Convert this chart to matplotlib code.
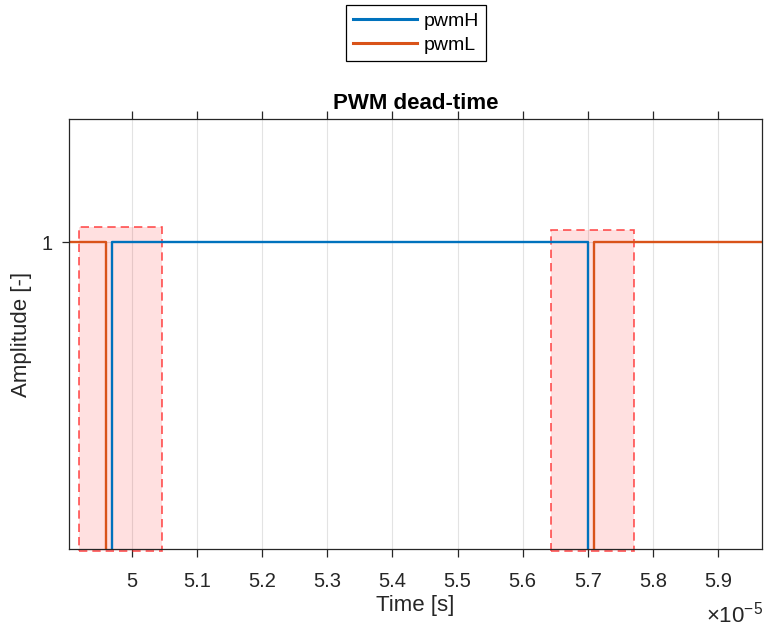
import matplotlib
matplotlib.use("Agg")
import matplotlib.pyplot as plt
from matplotlib.patches import Rectangle
from matplotlib.ticker import FuncFormatter

# step signals (time in seconds)
t_h = [4.90e-5, 4.97e-5, 5.70e-5, 5.97e-5]
pwm_h = [0, 1, 0, 0]
t_l = [4.90e-5, 4.96e-5, 5.71e-5, 5.97e-5]
pwm_l = [1, 0, 1, 1]

# dead-time highlight boxes
box_start = [4.919e-5, 5.644e-5]
box_end = [5.046e-5, 5.771e-5]
box_top = [1.05, 1.04]

x_ticks = [5.0e-5, 5.1e-5, 5.2e-5, 5.3e-5, 5.4e-5, 5.5e-5, 5.6e-5, 5.7e-5, 5.8e-5, 5.9e-5]

BLUE = (0, 0.447, 0.741)
ORANGE = (0.85, 0.325, 0.098)
DARK = "#262626"

plt.rcParams["font.family"] = ["Liberation Sans", "DejaVu Sans"]
plt.rcParams["mathtext.fontset"] = "custom"
plt.rcParams["mathtext.rm"] = "Liberation Sans"

fig = plt.figure(figsize=(7.65, 6.28), dpi=100)
ax = fig.add_axes([0.0908, 0.1258, 0.9049, 0.6847])

for x0, x1, top in zip(box_start, box_end, box_top):
    ax.add_patch(Rectangle((x0, 0), x1 - x0, top, facecolor=(1, 0, 0, 0.12),
                           edgecolor=(1, 0.1, 0.1, 0.75), linestyle=(0, (5, 3)),
                           linewidth=1.2, zorder=1, clip_on=False))

ax.plot(t_h, pwm_h, drawstyle="steps-post", color=BLUE, linewidth=1.7, label="pwmH", zorder=3)
ax.plot(t_l, pwm_l, drawstyle="steps-post", color=ORANGE, linewidth=1.7, label="pwmL", zorder=3)

ax.set_xlim(4.904e-5, 5.967e-5)
# bottom a hair above 0 so the low level hides behind the axis line, as in the original
ax.set_ylim(0.005, 1.4)
ax.set_xticks(x_ticks)
ax.xaxis.set_major_formatter(FuncFormatter(lambda v, p: f"{v * 1e5:g}"))
ax.set_yticks([1])
ax.set_yticklabels(["1"])

ax.grid(True, color="#e3e3e3", linewidth=0.8, zorder=0)
ax.set_axisbelow(True)
for side in ["left", "bottom", "top", "right"]:
    ax.spines[side].set_color(DARK)
    ax.spines[side].set_linewidth(0.9)
    ax.spines[side].set_zorder(4)

ax.tick_params(axis="x", direction="out", length=5.5, width=0.9, pad=11,
               labelsize=14.5, colors=DARK, top=True)
ax.tick_params(axis="y", direction="out", length=5, width=0.9, pad=7,
               labelsize=14.5, colors=DARK)

ax.set_title("PWM dead-time", fontsize=16, fontweight="bold", color="black", pad=7.5)
ax.set_xlabel("Time [s]", fontsize=16, color=DARK, va="top")
ax.xaxis.set_label_coords(0.5, -0.106)
ax.set_ylabel("Amplitude [-]", fontsize=16, color=DARK)
ax.yaxis.set_label_coords(-0.054, 0.5)

fig.text(0.997, 0.009, r"$\times 10^{-5}$", ha="right", va="baseline", fontsize=16, color=DARK)

leg = fig.legend(loc="upper center", bbox_to_anchor=(0.544, 0.992), borderaxespad=0,
                 fontsize=14, handlelength=3.25, fancybox=False, framealpha=1,
                 edgecolor="black", borderpad=0.37, labelspacing=0.34, handletextpad=0.36)
leg.get_frame().set_linewidth(0.9)
for line in leg.get_lines():
    line.set_linewidth(2.2)

plt.savefig("out.png", dpi=100)
plt.close()
